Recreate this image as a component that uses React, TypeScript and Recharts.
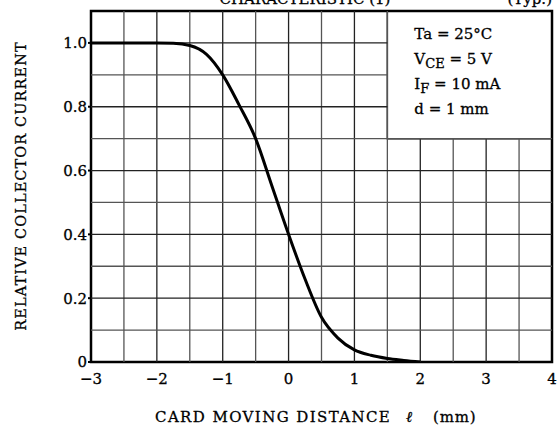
import React from "react";
import {
  LineChart,
  Line,
  XAxis,
  YAxis,
  ReferenceLine,
  ReferenceArea,
} from "recharts";

// ---- data ----
const distance = [-3, -2.5, -2, -1.75, -1.5, -1.25, -1, -0.75, -0.5, -0.25, 0, 0.25, 0.5, 0.75, 1, 1.25, 1.5, 1.75, 2];
const relCurrent = [1.0, 1.0, 1.0, 0.999, 0.992, 0.965, 0.9, 0.805, 0.7, 0.55, 0.4, 0.26, 0.14, 0.075, 0.038, 0.021, 0.011, 0.005, 0.0];

const xTicks = [-3, -2, -1, 0, 1, 2, 3, 4];
const yTicks = [0, 0.2, 0.4, 0.6, 0.8, 1.0];
const xGrid = [-2.5, -2, -1.5, -1, -0.5, 0, 0.5, 1, 1.5, 2, 2.5, 3, 3.5];
const yGrid = [0.1, 0.2, 0.3, 0.4, 0.5, 0.6, 0.7, 0.8, 0.9, 1.0];

// condition box (in data units)
const boxX = [1.5, 4];
const boxY = [0.7, 1.1];

const data = distance.map((d, i) => ({ d, r: relCurrent[i] }));

const FONT = "'DejaVu Serif', serif";
const TXT = { fontFamily: FONT, fill: "#000", stroke: "#000", strokeWidth: 0.3 } as any;

const fmtX = (v: number) => (v < 0 ? "\u2212" + Math.abs(v) : String(v));
const fmtY = (v: number) => (v === 0 ? "0" : v.toFixed(1));

const LegendBox = (props: any) => {
  const vb = props.viewBox || {};
  const x = (vb.x ?? 0) + 27;
  const y = vb.y ?? 0;
  const st = { ...TXT, fontSize: 15 };
  return (
    <g>
      <text x={x} y={y + 28} {...st}>Ta = 25°C</text>
      <text x={x} y={y + 53} {...st}>
        V<tspan fontSize={13} dy={4}>CE</tspan>
        <tspan dy={-4}> = 5 V</tspan>
      </text>
      <text x={x} y={y + 78} {...st}>
        I<tspan fontSize={13} dy={4}>F</tspan>
        <tspan dy={-4}> = 10 mA</tspan>
      </text>
      <text x={x} y={y + 103} {...st}>d = 1 mm</text>
    </g>
  );
};

export default function App() {
  return (
    <div style={{ position: "absolute", left: 0, top: 0, width: 560, height: 430, background: "#fff" }}>
      <LineChart
        width={560}
        height={430}
        data={data}
        margin={{ top: 11, right: 8, left: 41, bottom: 38 }}
      >
        <XAxis
          dataKey="d"
          type="number"
          domain={[-3, 4]}
          ticks={xTicks}
          tickFormatter={fmtX}
          axisLine={false}
          tickLine={false}
          height={30}
          tick={{ ...TXT, fontSize: 15 }}
          tickMargin={5}
          allowDataOverflow
        />
        <YAxis
          type="number"
          domain={[0, 1.1]}
          ticks={yTicks}
          tickFormatter={fmtY}
          axisLine={false}
          tickLine={{ stroke: "#000", strokeWidth: 2 }}
          tickSize={3}
          width={50}
          tick={{ ...TXT, fontSize: 15 }}
          tickMargin={1}
          allowDataOverflow
        />
        {xGrid.map((v) => (
          <ReferenceLine
            key={"vx" + v}
            segment={[
              { x: v, y: 0 },
              { x: v, y: v > boxX[0] ? boxY[0] : 1.1 },
            ]}
            stroke={Number.isInteger(v) ? "#222" : "#555"}
            strokeWidth={1.3}
          />
        ))}
        {yGrid.map((v) => (
          <ReferenceLine
            key={"hy" + v}
            segment={[
              { x: -3, y: v },
              { x: v > boxY[0] ? boxX[0] : 4, y: v },
            ]}
            stroke={Math.round(v * 10) % 2 === 0 ? "#222" : "#555"}
            strokeWidth={1.3}
          />
        ))}
        <ReferenceArea
          x1={boxX[0]}
          x2={boxX[1]}
          y1={boxY[0]}
          y2={boxY[1]}
          fill="#fff"
          fillOpacity={0}
          stroke="#000"
          strokeWidth={1.5}
          label={<LegendBox />}
        />
        <ReferenceArea
          x1={-3}
          x2={4}
          y1={0}
          y2={1.1}
          fill="none"
          fillOpacity={0}
          stroke="#000"
          strokeWidth={2.5}
        />
        <Line
          type="monotone"
          dataKey="r"
          stroke="#000"
          strokeWidth={3}
          dot={false}
          isAnimationActive={false}
        />
      </LineChart>
      <svg
        width={560}
        height={430}
        style={{ position: "absolute", left: 0, top: 0, pointerEvents: "none" }}
      >
        <text x={305} y={4} textAnchor="middle" fontSize={15} {...TXT}>
          CHARACTERISTIC (1)
        </text>
        <text x={552} y={4} textAnchor="end" fontSize={15} {...TXT}>
          (Typ.)
        </text>
        <text
          x={0}
          y={0}
          transform="translate(26,186) rotate(-90)"
          textAnchor="middle"
          fontSize={14.5}
          letterSpacing={1.1}
          {...TXT}
        >
          RELATIVE COLLECTOR CURRENT
        </text>
        <text x={155} y={422} textAnchor="start" fontSize={15} letterSpacing={1.4} {...TXT}>
          CARD MOVING DISTANCE
        </text>
        <text x={406} y={422} textAnchor="start" fontSize={15} fontStyle="italic" {...TXT}>
          ℓ
        </text>
        <text x={433} y={422} textAnchor="start" fontSize={15} letterSpacing={0.8} {...TXT}>
          (mm)
        </text>
      </svg>
    </div>
  );
}
